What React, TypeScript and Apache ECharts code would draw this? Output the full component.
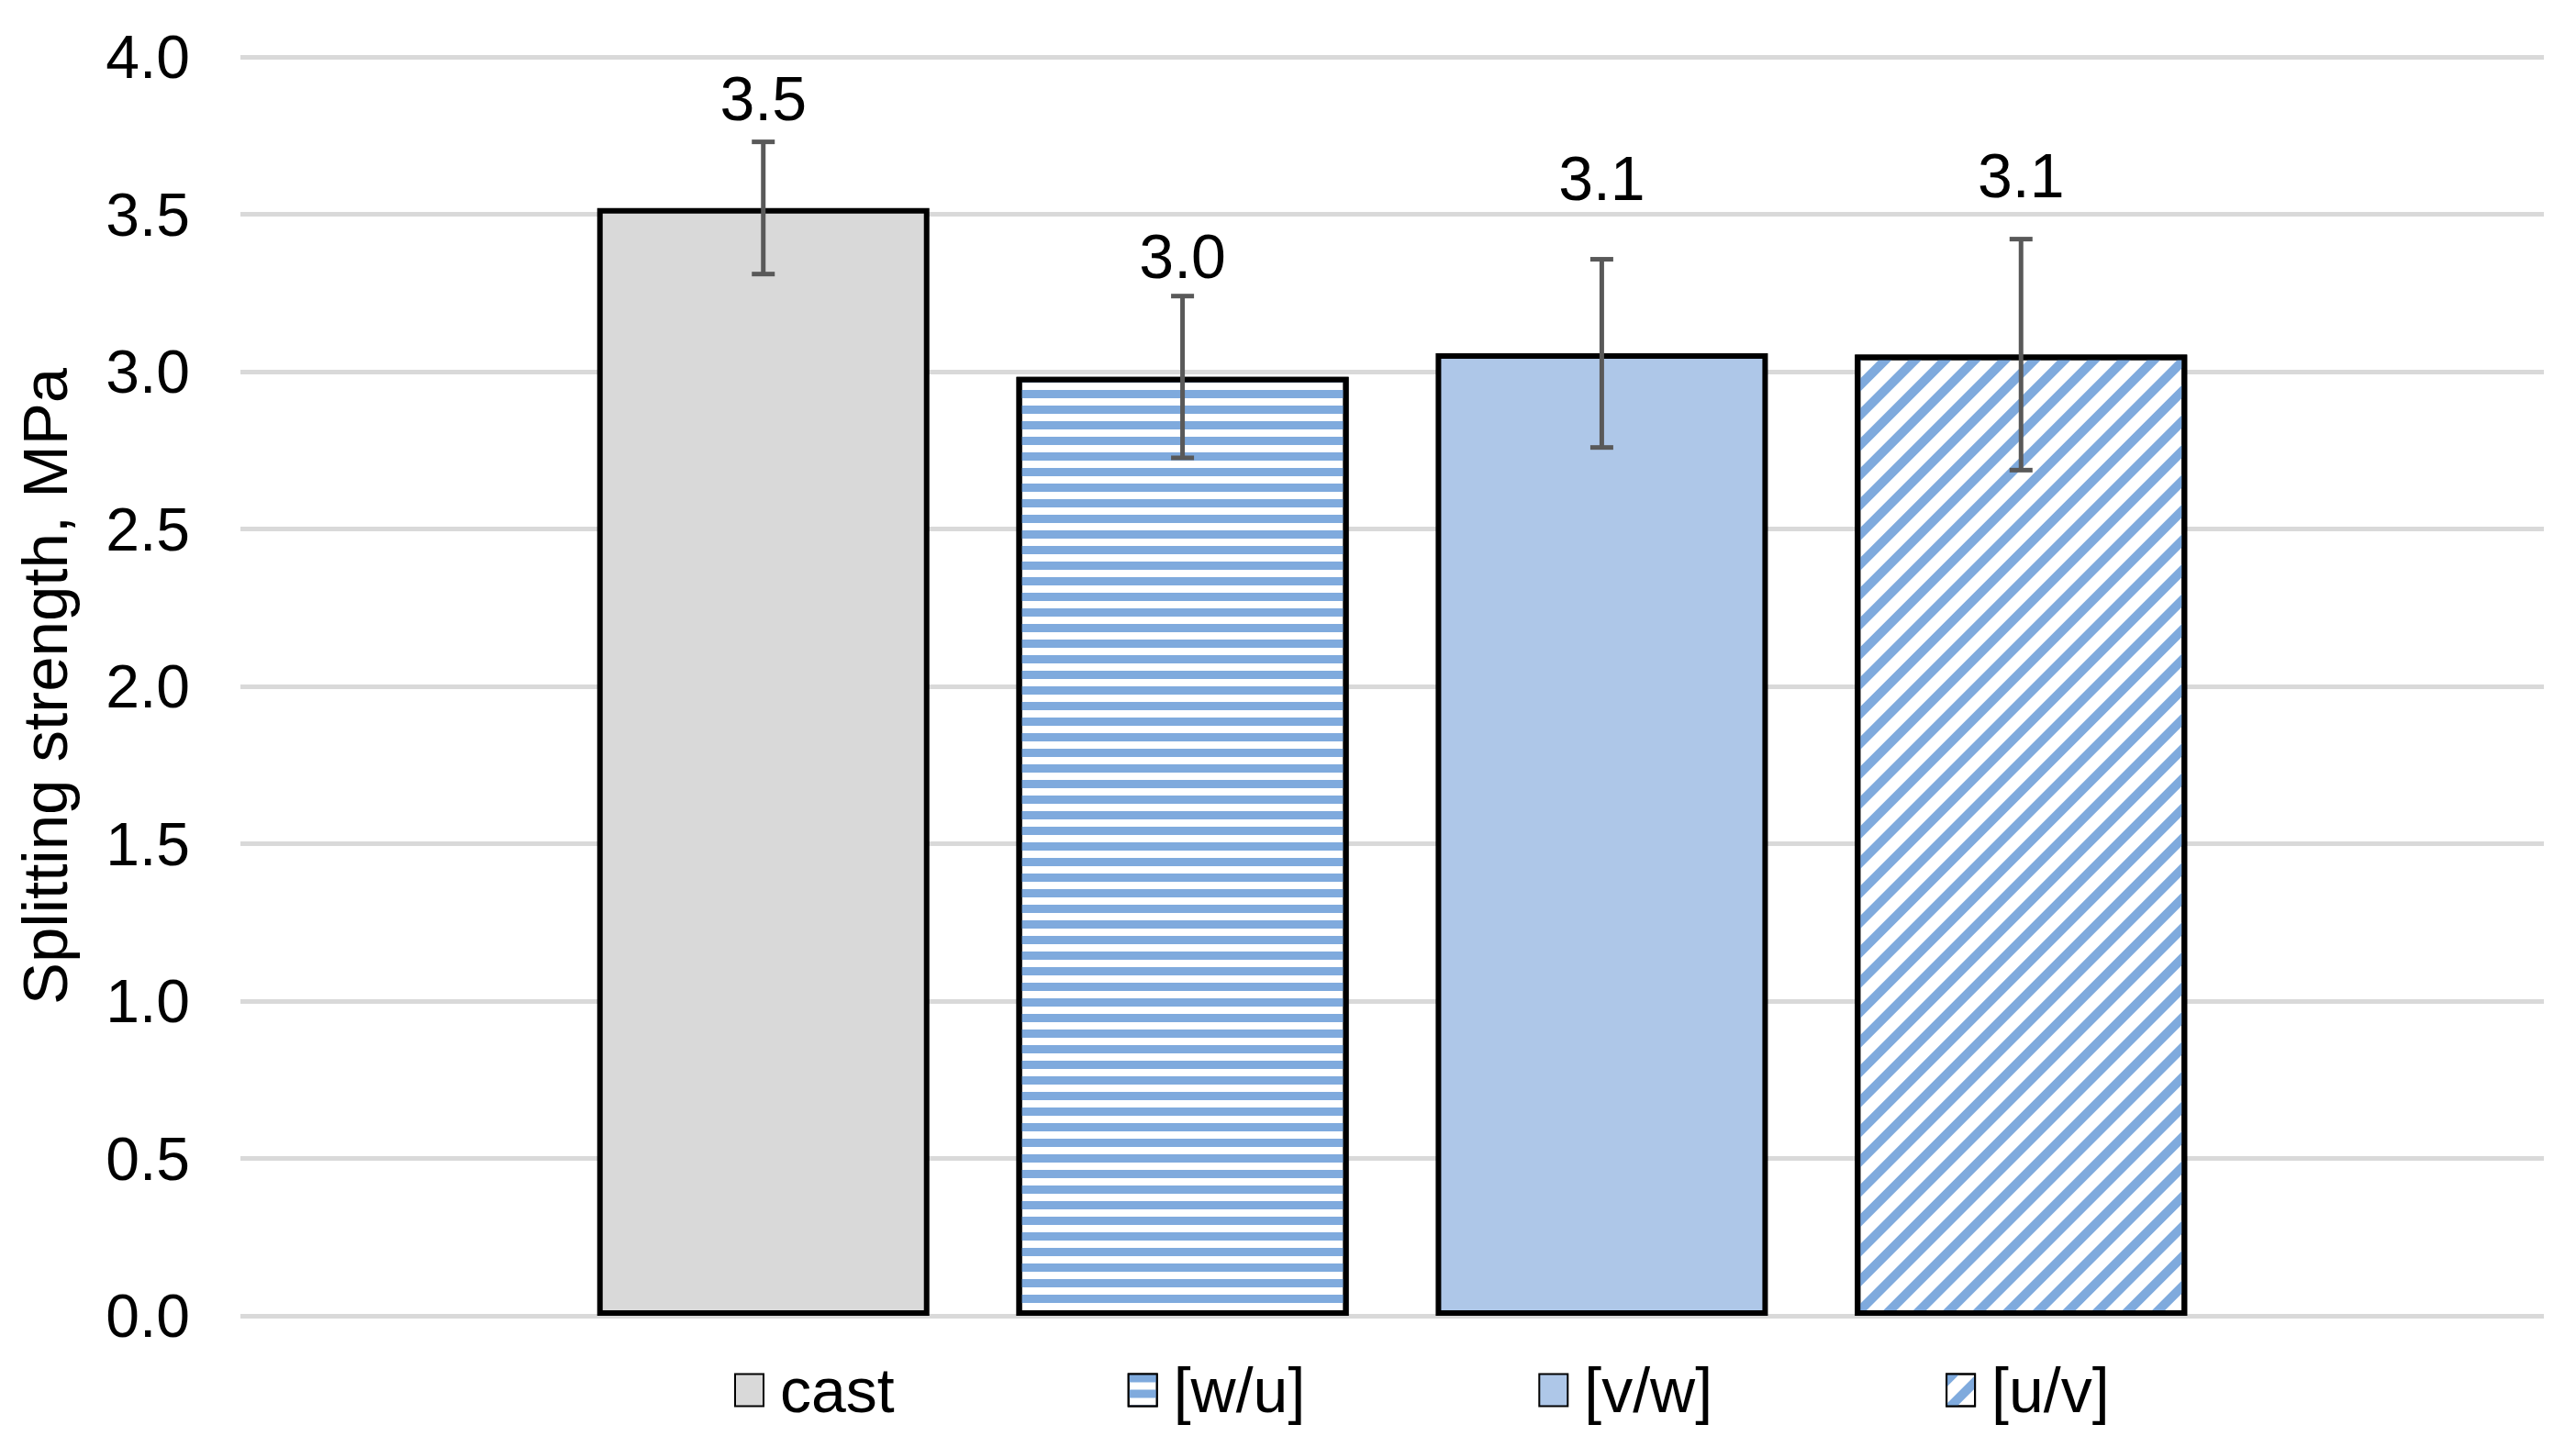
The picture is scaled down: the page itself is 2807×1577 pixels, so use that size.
import React, { useEffect, useRef } from "react";
import * as echarts from "echarts";

// ---- data ----
const categories = [""];
const seriesNames = ["cast", "[w/u]", "[v/w]", "[u/v]"];
const means = [3.52, 2.983, 3.058, 3.054];
const errors = [0.21, 0.257, 0.299, 0.367];
const yMin = 0;
const yMax = 4;
const yStep = 0.5;

const FONT = "'Liberation Sans', Arial, sans-serif";
const BAR_W = 362;
const BAR_GAP = 0.262;
const BLUE = "#7faadd";

const seriesStyles: any[] = [
  { color: "#d9d9d9", decal: undefined, labelDist: 86 },
  {
    color: "#ffffff",
    decal: {
      symbol: "rect",
      symbolSize: 1,
      symbolKeepAspect: false,
      color: BLUE,
      dashArrayX: [1, 0],
      dashArrayY: [9, 8],
      rotation: 0,
    },
    labelDist: 98,
  },
  { color: "#aec7e8", decal: undefined, labelDist: 157 },
  {
    color: "#ffffff",
    decal: {
      symbol: "rect",
      symbolSize: 1,
      symbolKeepAspect: false,
      color: BLUE,
      dashArrayX: [1, 0],
      dashArrayY: [10, 13],
      rotation: -Math.PI / 4,
    },
    labelDist: 161,
  },
];

export default function App() {
  const ref = useRef<HTMLDivElement>(null);
  useEffect(() => {
    if (!ref.current) return;
    const chart = echarts.init(ref.current, null, { renderer: "svg" });
    const step = BAR_W * (1 + BAR_GAP);
    const n = seriesNames.length;

    const barSeries = seriesNames.map((name, i) => {
      const st = seriesStyles[i];
      const itemStyle: any = {
        color: st.color,
        borderColor: "#000000",
        borderWidth: 6,
      };
      if (st.decal) itemStyle.decal = st.decal;
      return {
        name,
        type: "bar",
        data: [means[i]],
        barWidth: BAR_W,
        barGap: `${BAR_GAP * 100}%`,
        itemStyle,
        label: {
          show: true,
          position: "top",
          distance: st.labelDist,
          fontSize: 68,
          fontFamily: FONT,
          color: "#000000",
          formatter: (p: any) => Number(p.value).toFixed(1),
        },
        z: 2,
      };
    });

    const errData = means.map((m, i) => [0, m, errors[i], i]);

    const option: any = {
      animation: false,
      backgroundColor: "#ffffff",
      textStyle: { fontFamily: FONT },
      grid: { left: 262, right: 35, top: 62, bottom: 143, containLabel: false },
      legend: {
        data: seriesNames,
        left: 800,
        top: 1481,
        padding: 0,
        icon: "rect",
        itemWidth: 31,
        itemHeight: 35,
        itemGap: 254,
        textStyle: {
          fontSize: 68,
          fontFamily: FONT,
          color: "#000000",
          padding: [0, 0, 0, 13],
        },
      },
      xAxis: {
        type: "category",
        data: categories,
        axisLine: { show: false },
        axisTick: { show: false },
        axisLabel: { show: false },
      },
      yAxis: {
        type: "value",
        min: yMin,
        max: yMax,
        interval: yStep,
        name: "Splitting strength, MPa",
        nameLocation: "middle",
        nameGap: 178,
        nameTextStyle: { fontSize: 69, fontFamily: FONT, color: "#000000" },
        axisLine: { show: false },
        axisTick: { show: false },
        axisLabel: {
          fontSize: 66,
          fontFamily: FONT,
          color: "#000000",
          margin: 55,
          formatter: (v: number) => v.toFixed(1),
        },
        splitLine: { show: true, lineStyle: { color: "#d9d9d9", width: 5 } },
      },
      series: [
        ...barSeries,
        {
          type: "custom",
          name: "error",
          data: errData,
          encode: { x: 0, y: 1 },
          z: 5,
          silent: true,
          renderItem: (params: any, api: any) => {
            const m = api.value(1);
            const e = api.value(2);
            const idx = api.value(3);
            const c = api.coord([0, m]);
            const hi = api.coord([0, m + e]);
            const lo = api.coord([0, m - e]);
            const x = c[0] + (idx - (n - 1) / 2) * step;
            const cap = 12.5;
            const style = { stroke: "#595959", lineWidth: 5 };
            return {
              type: "group",
              children: [
                { type: "line", shape: { x1: x, y1: hi[1], x2: x, y2: lo[1] }, style },
                { type: "line", shape: { x1: x - cap, y1: hi[1], x2: x + cap, y2: hi[1] }, style },
                { type: "line", shape: { x1: x - cap, y1: lo[1], x2: x + cap, y2: lo[1] }, style },
              ],
            };
          },
        },
      ],
    };
    chart.setOption(option);
    return () => chart.dispose();
  }, []);

  return (
    <div
      ref={ref}
      style={{ position: "fixed", left: 0, top: 0, width: 2807, height: 1577, background: "#fff" }}
    />
  );
}
